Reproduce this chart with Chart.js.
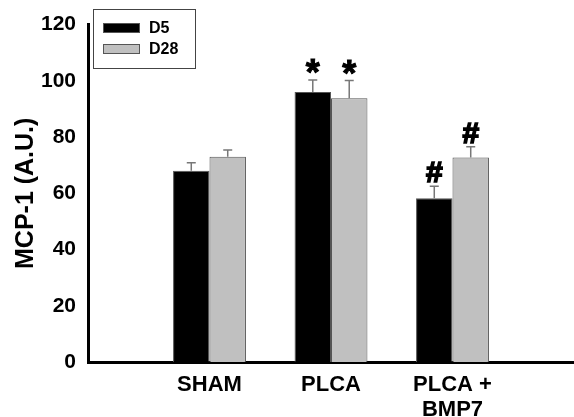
<!DOCTYPE html>
<html>
<head>
<meta charset="utf-8">
<script src="https://cdn.jsdelivr.net/npm/chart.js@4/dist/chart.umd.min.js"></script>
<style>
  html, body { margin: 0; padding: 0; background: #fff; }
  #wrap { width: 574px; height: 417px; }
</style>
</head>
<body>
<div id="wrap"><canvas id="mcpChart" width="574" height="417"></canvas></div>
<script>
// values
const categories = ["SHAM", "PLCA", ["PLCA +", "BMP7"]]
const d5Values = [68.0, 96.0, 58.2]
const d5Errors = [2.9, 4.3, 4.3]
const d28Values = [73.0, 93.8, 72.7]
const d28Errors = [2.4, 6.3, 3.9]
const d5Marks = ["", "*", "#"]
const d28Marks = ["", "*", "#"]
const yTicks = [0, 20, 40, 60, 80, 100, 120]

// empty slot on each side so the groups sit at 1, 2, 3 of 0..4
const pad = arr => [null, ...arr, null]
const labels = ["", ...categories, ""]

const FONT = "'Liberation Sans', Arial, Helvetica, sans-serif"

const errorBars = {
  id: "errorBars",
  afterDatasetsDraw(chart) {
    const ctx = chart.ctx
    const y = chart.scales.y
    ctx.save()
    chart.data.datasets.forEach((ds, i) => {
      const meta = chart.getDatasetMeta(i)
      meta.data.forEach((bar, j) => {
        const v = ds.data[j]
        if (v == null) return
        const top = y.getPixelForValue(v + ds.errors[j])
        ctx.strokeStyle = "#777"
        ctx.lineWidth = 1.5
        ctx.beginPath()
        ctx.moveTo(bar.x, bar.y)
        ctx.lineTo(bar.x, top)
        ctx.moveTo(bar.x - 4.5, top)
        ctx.lineTo(bar.x + 4.5, top)
        ctx.stroke()
        const mark = ds.marks[j]
        if (mark) {
          ctx.fillStyle = "#000"
          ctx.strokeStyle = "#000"
          ctx.textAlign = "center"
          ctx.textBaseline = "alphabetic"
          if (mark === "*") {
            ctx.font = "bold 36px " + FONT
            ctx.lineWidth = 1
            ctx.fillText(mark, bar.x, top + 5)
            ctx.strokeText(mark, bar.x, top + 5)
          } else {
            ctx.font = "bold 30px " + FONT
            ctx.lineWidth = 1.6
            ctx.fillText(mark, bar.x, top - 4)
            ctx.strokeText(mark, bar.x, top - 4)
          }
        }
      })
    })
    ctx.restore()
  }
}

const boxLegend = {
  id: "boxLegend",
  afterDraw(chart) {
    const ctx = chart.ctx
    ctx.save()
    ctx.strokeStyle = "#444"
    ctx.lineWidth = 1
    ctx.strokeRect(93.5, 9.5, 102, 59)
    ctx.font = "bold 16px " + FONT
    ctx.textBaseline = "middle"
    ctx.textAlign = "left"
    chart.data.datasets.forEach((ds, i) => {
      const yy = 23 + i * 21
      ctx.fillStyle = ds.backgroundColor
      ctx.fillRect(103, yy, 37, 10)
      ctx.strokeStyle = "#555"
      ctx.strokeRect(103.5, yy + 0.5, 36, 9)
      ctx.fillStyle = "#000"
      ctx.fillText(ds.label, 149, yy + 5.5)
    })
    ctx.restore()
  }
}

new Chart(document.getElementById("mcpChart"), {
  type: "bar",
  data: {
    labels: labels,
    datasets: [
      {
        label: "D5",
        data: pad(d5Values),
        errors: pad(d5Errors),
        marks: pad(d5Marks),
        backgroundColor: "#000000",
        borderColor: "#555555",
        borderWidth: 1,
        categoryPercentage: 0.6,
        barPercentage: 1.0,
      },
      {
        label: "D28",
        data: pad(d28Values),
        errors: pad(d28Errors),
        marks: pad(d28Marks),
        backgroundColor: "#c0c0c0",
        borderColor: "#555555",
        borderWidth: 1,
        categoryPercentage: 0.6,
        barPercentage: 1.0,
      },
    ],
  },
  options: {
    responsive: false,
    devicePixelRatio: 1,
    animation: false,
    layout: { padding: { top: 23, right: -7, bottom: 0, left: 0 } },
    plugins: {
      legend: { display: false },
      tooltip: { enabled: false },
    },
    scales: {
      x: {
        offset: false,
        grid: { display: false, drawTicks: false },
        border: { display: true, color: "#000", width: 3 },
        ticks: {
          color: "#000",
          font: { family: FONT, size: 22, weight: "bold", lineHeight: 25 / 22 },
          padding: 10,
          autoSkip: false,
          maxRotation: 0,
        },
        afterFit(scale) {
          scale.height = 55
          scale.paddingLeft = 0
          scale.paddingRight = -7
        },
      },
      y: {
        min: 0,
        max: 120,
        afterBuildTicks(scale) { scale.ticks = yTicks.map(v => ({ value: v })) },
        grid: { display: false, drawTicks: false },
        border: { display: true, color: "#000", width: 3 },
        ticks: {
          color: "#000",
          font: { family: FONT, size: 21, weight: "bold" },
          padding: 12,
        },
        title: {
          display: true,
          text: "MCP-1 (A.U.)",
          color: "#000",
          font: { family: FONT, size: 25, weight: "bold" },
          padding: { top: 11, bottom: 0 },
        },
        afterFit(scale) { scale.width = 88 },
      },
    },
  },
  plugins: [errorBars, boxLegend],
})
</script>
</body>
</html>
